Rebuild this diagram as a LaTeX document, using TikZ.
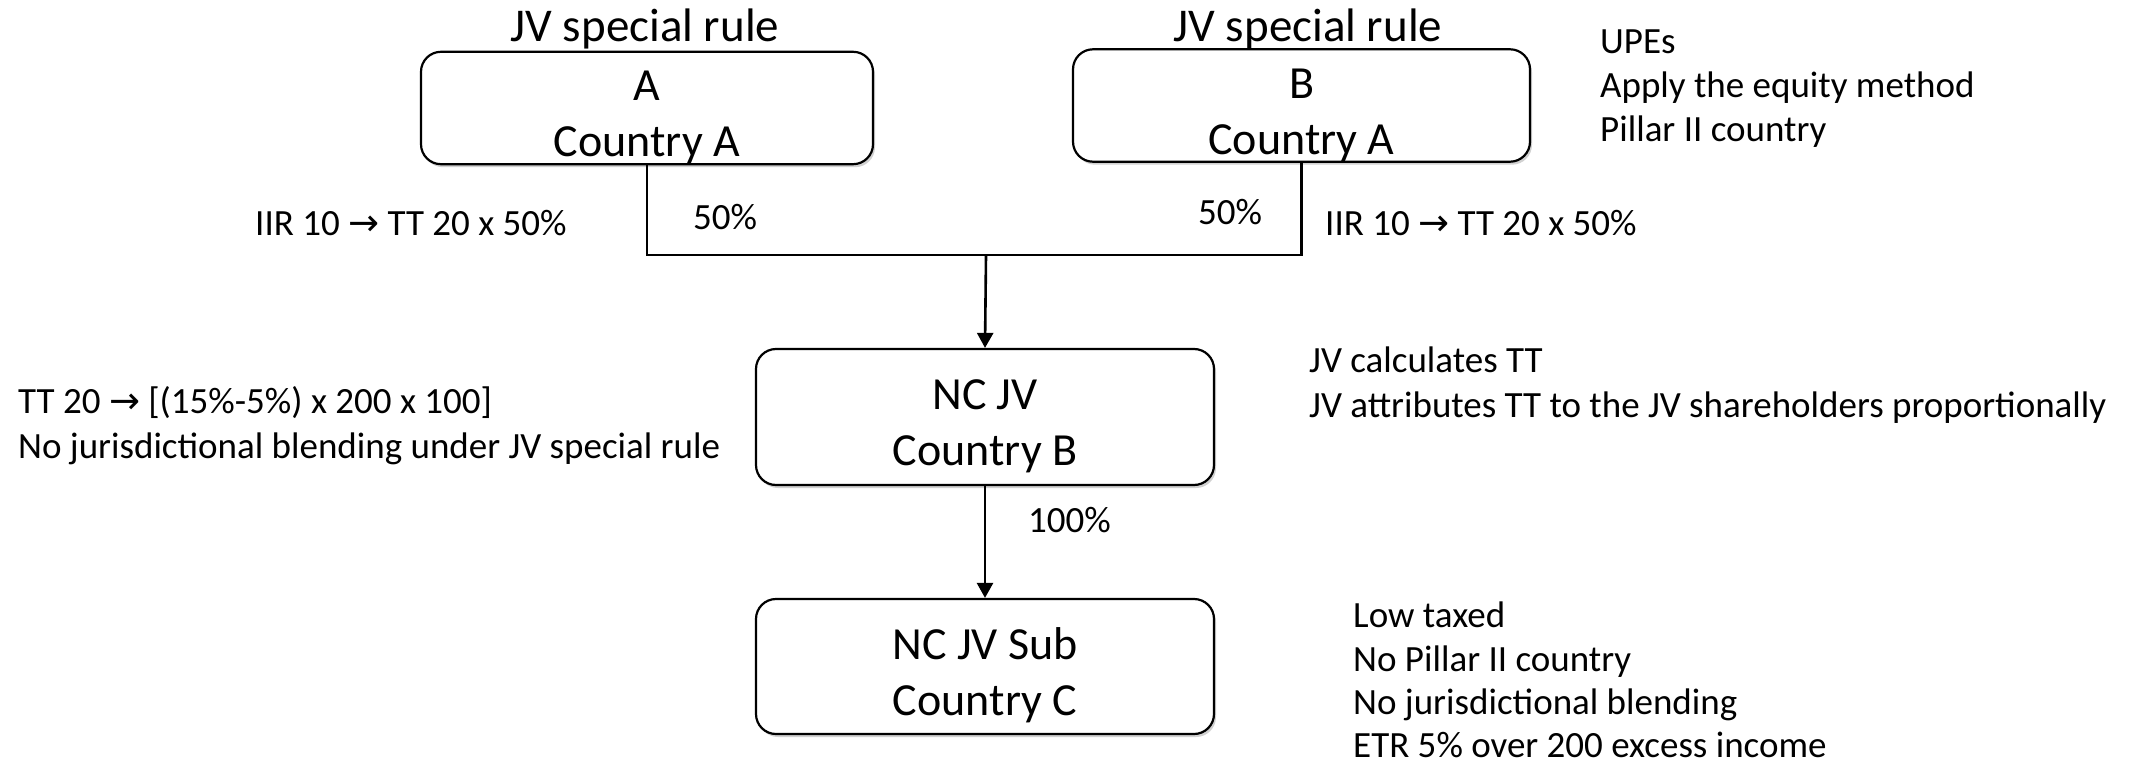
\documentclass[tikz,border=0pt]{standalone}
\usepackage{fontspec}
\setmainfont{Carlito}
\newfontfamily\arrowfont{DejaVu Sans}
\usetikzlibrary{arrows.meta,shadows}

% right arrow used inside the annotations
\newcommand{\rarr}{{\arrowfont\char"2192}}
% two centred lines inside an entity box
\newcommand{\twolines}[2]{\rule{0pt}{49pt}#1\\#2}

\tikzset{
  entity/.style={draw, line width=2.2pt, rounded corners=20pt, fill=white,
    align=center, inner sep=0pt,
    font=\fontsize{46}{56}\selectfont,
    drop shadow={shadow xshift=2pt, shadow yshift=-3pt, opacity=0.18, fill=black}},
  heading/.style={anchor=base, inner sep=0pt, font=\fontsize{47}{56}\selectfont},
  note/.style={anchor=base west, inner sep=0pt, font=\fontsize{37}{44}\selectfont},
  link/.style={line width=2.4pt},
  owns/.style={line width=2.6pt, -{Triangle[length=15pt,width=16pt]}}
}

\begin{document}
\begin{tikzpicture}[x=1pt,y=-1pt]
  \useasboundingbox (0,0) rectangle (2133,765);

  % shareholders
  \node[entity, minimum width=452pt, minimum height=108pt] (shA) at (647,108)
    {\twolines{A}{Country A}};
  \node[entity, minimum width=457pt, minimum height=107pt] (shB) at (1301.5,105.5)
    {\twolines{B}{Country A}};
  \node[heading] (titleA) at (645,42) {JV special rule};
  \node[heading] (titleB) at (1308,42) {JV special rule};

  % joint venture and its subsidiary
  \node[entity, minimum width=458pt, minimum height=136pt] (jv) at (985,417)
    {\twolines{NC JV}{Country B}};
  \node[entity, minimum width=458pt, minimum height=135pt] (sub) at (985,666.5)
    {\twolines{NC JV Sub}{Country C}};

  % ownership lines
  \coordinate (split) at (986,255);
  \draw[link] (shA.south) |- (split);
  \draw[link] (shB.south) |- (split);
  \draw[owns] (split) -- (jv.north);
  \draw[owns] (jv.south) -- (sub.north);

  % percentages
  \node[note] (pA) at (693,229) {50\%};
  \node[note] (pB) at (1198,224) {50\%};
  \node[note] (pJV) at (1028,532) {100\%};

  % inclusion rule notes
  \node[note] (iirA) at (255,235) {IIR 10 \rarr{} TT 20 x 50\%};
  \node[note] (iirB) at (1325,235) {IIR 10 \rarr{} TT 20 x 50\%};

  % parent notes
  \node[note] (upe1) at (1600,54) {UPEs};
  \node[note] (upe2) at (1600,98) {Apply the equity method};
  \node[note] (upe3) at (1600,142) {Pillar II country};

  % top-up tax notes
  \node[note] (tt1) at (18,413) {TT 20 \rarr{} [(15\%-5\%) x 200 x 100]};
  \node[note] (tt2) at (18,458) {No jurisdictional blending under JV special rule};

  % joint venture notes
  \node[note] (jv1) at (1309,372) {JV calculates TT};
  \node[note] (jv2) at (1309,417) {JV attributes TT to the JV shareholders proportionally};

  % subsidiary notes
  \node[note] (s1) at (1353,627) {Low taxed};
  \node[note] (s2) at (1353,671) {No Pillar II country};
  \node[note] (s3) at (1353,714) {No jurisdictional blending};
  \node[note] (s4) at (1353,757) {ETR 5\% over 200 excess income};
\end{tikzpicture}
\end{document}
